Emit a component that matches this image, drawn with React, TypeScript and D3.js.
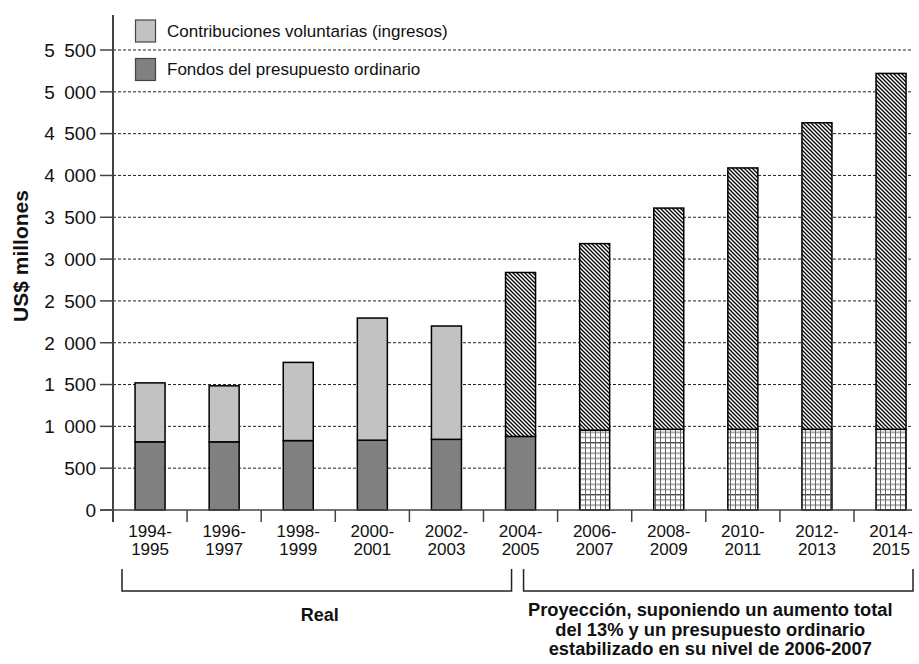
import * as d3 from "d3";

const periods = [
  "1994-1995", "1996-1997", "1998-1999", "2000-2001", "2002-2003", "2004-2005",
  "2006-2007", "2008-2009", "2010-2011", "2012-2013", "2014-2015",
];
// regular budget funds (bottom segment), US$ millions
const regular = [815, 815, 830, 835, 845, 880, 955, 965, 965, 965, 965];
// voluntary contributions (top segment), US$ millions
const voluntary = [705, 670, 935, 1460, 1355, 1960, 2230, 2645, 3125, 3665, 4255];
const yTicks = [0, 500, 1000, 1500, 2000, 2500, 3000, 3500, 4000, 4500, 5000, 5500];
const firstHatched = 5;   // voluntary drawn hatched from 2004-2005
const firstProjected = 6; // regular drawn as grid from 2006-2007

const FONT = "'Liberation Sans', Arial, sans-serif";
const W = 919, H = 664;
const axisX = 113, axisY = 510, plotRight = 912;

const fmt = d3.formatLocale({ decimal: ",", thousands: "\u2002", grouping: [3], currency: ["", ""] }).format(",");

export default function App() {
  const x = d3.scaleBand<string>()
    .domain(periods)
    .range([axisX, axisX + 74.1 * periods.length])
    .paddingInner(0.595)
    .paddingOuter(0.2975);
  const y = d3.scaleLinear().domain([0, 5500]).range([axisY, 50]);
  const bw = x.bandwidth();
  const gapHalf = (x.step() - bw) / 2;

  const split = (x(periods[5]) || 0) + bw / 2 - 3;
  const leftStart = axisX + 9, leftEnd = split - 6;
  const rightStart = split + 6, rightEnd = plotRight + 1;
  const brTop = 569, brBot = 591;

  return (
    <svg width={W} height={H} style={{ position: "absolute", left: 0, top: 0, background: "#fff" }}
      fontFamily={FONT}>
      <defs>
        <pattern id="hatch" patternUnits="userSpaceOnUse" width={4} height={4}>
          <rect width={4} height={4} fill="#fff" />
          <path d="M-1,-1 L5,5 M-1,3 L1,5 M3,-1 L5,1" stroke="#000" strokeWidth={1.3} />
        </pattern>
        <pattern id="grid" patternUnits="userSpaceOnUse" width={5} height={52} y={442.3}>
          <rect width={5} height={52} fill="#fff" />
          {d3.range(10).map(i => (
            <line key={i} x1={0} x2={5} y1={i * 5.2 + 0.5} y2={i * 5.2 + 0.5}
              stroke={i === 0 ? "#000" : "#666"} strokeWidth={1} />
          ))}
          <line x1={0.5} x2={0.5} y1={0} y2={52} stroke="#666" strokeWidth={1} />
        </pattern>
      </defs>

      {/* gridlines */}
      {yTicks.filter(t => t > 0).map(t => (
        <line key={t} x1={axisX} x2={plotRight} y1={y(t)} y2={y(t)}
          stroke="#222" strokeWidth={1} strokeDasharray="3,2" />
      ))}

      {/* bars */}
      {periods.map((p, i) => {
        const x0 = x(p) || 0;
        const yr = y(regular[i]);
        const yt = y(regular[i] + voluntary[i]);
        return (
          <g key={p}>
            <rect x={x0} y={yr} width={bw} height={axisY - yr}
              fill={i >= firstProjected ? "url(#grid)" : "#808080"} stroke="#000" strokeWidth={1.5} />
            <rect x={x0} y={yt} width={bw} height={yr - yt}
              fill={i >= firstHatched ? "url(#hatch)" : "#c2c2c2"} stroke="#000" strokeWidth={1.5} />
          </g>
        );
      })}

      {/* y axis */}
      <line x1={axisX} x2={axisX} y1={15} y2={522} stroke="#444" strokeWidth={2} />
      {yTicks.map(t => (
        <g key={t}>
          <line x1={100} x2={axisX} y1={y(t)} y2={y(t)} stroke="#444" strokeWidth={1.5} />
          <text x={96} y={y(t)} dy="0.36em" textAnchor="end" fontSize={19} fill="#111">{fmt(t)}</text>
        </g>
      ))}
      <text transform={`translate(28,256) rotate(-90)`} textAnchor="middle" fontSize={21}
        fontWeight="bold" fill="#111">US$ millones</text>

      {/* x axis */}
      <line x1={100} x2={plotRight} y1={axisY} y2={axisY} stroke="#444" strokeWidth={1.5} />
      {periods.map((p, i) => {
        const cx = (x(p) || 0) + bw / 2;
        const [a, b] = p.split("-");
        return (
          <g key={p}>
            {i > 0 && (
              <line x1={(x(p) || 0) - gapHalf} x2={(x(p) || 0) - gapHalf} y1={axisY} y2={522}
                stroke="#444" strokeWidth={1.5} />
            )}
            <text x={cx} y={537} textAnchor="middle" fontSize={17} fill="#111">{a}-</text>
            <text x={cx} y={555} textAnchor="middle" fontSize={17} fill="#111">{b}</text>
          </g>
        );
      })}

      {/* brackets */}
      <path d={`M${leftStart},${brTop} V${brBot} H${leftEnd} V${brTop}`} fill="none" stroke="#222" strokeWidth={1.5} />
      <path d={`M${rightStart},${brTop} V${brBot} H${rightEnd} V${brTop}`} fill="none" stroke="#222" strokeWidth={1.5} />
      <text x={(leftStart + leftEnd) / 2 + 3} y={621} textAnchor="middle" fontSize={18} fontWeight="bold" fill="#111">Real</text>
      {["Proyección, suponiendo un aumento total", "del 13% y un presupuesto ordinario",
        "estabilizado en su nivel de 2006-2007"].map((s, i) => (
        <text key={i} x={(rightStart + rightEnd) / 2 - 8} y={616 + i * 19.5} textAnchor="middle"
          fontSize={18.3} fontWeight="bold" fill="#111">{s}</text>
      ))}

      {/* legend */}
      <rect x={135.5} y={20} width={20} height={22} fill="#c2c2c2" stroke="#444" strokeWidth={1.2} />
      <text x={167} y={37} fontSize={17} fill="#111">Contribuciones voluntarias (ingresos)</text>
      <rect x={135.5} y={58.5} width={20} height={22} fill="#808080" stroke="#444" strokeWidth={1.2} />
      <text x={167} y={75} fontSize={17} fill="#111">Fondos del presupuesto ordinario</text>
    </svg>
  );
}
